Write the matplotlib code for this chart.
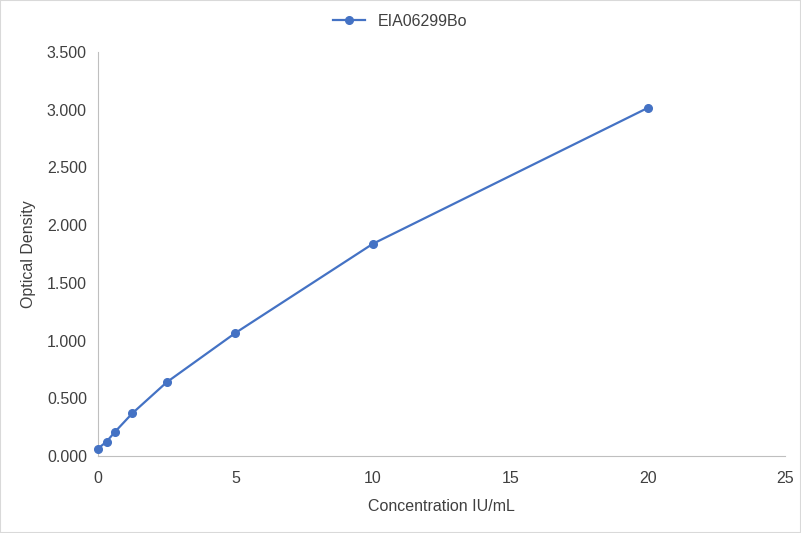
import numpy as np
import matplotlib.pyplot as plt

concentration = [0, 0.3125, 0.625, 1.25, 2.5, 5, 10, 20]
optical_density = [0.064, 0.125, 0.211, 0.370, 0.639, 1.066, 1.838, 3.015]
series_name = 'EIA06299Bo'

plt.rcParams['font.family'] = ['Arial', 'Liberation Sans', 'DejaVu Sans']

fig = plt.figure(figsize=(8.01, 5.33), dpi=100)
ax = fig.add_axes([98 / 801, 1 - 456 / 533, (785 - 98) / 801, (456 - 52) / 533])

ax.plot(concentration, optical_density, color='#4472C4', marker='o', markersize=5.5,
        linewidth=1.6, label=series_name, clip_on=False, zorder=3)

ax.set_xlim(0, 25)
ax.set_ylim(0, 3.5)
ax.set_xticks(np.arange(0, 26, 5))
ax.set_yticks(np.arange(0, 3.51, 0.5))
ax.set_yticklabels([f'{v:.3f}' for v in np.arange(0, 3.51, 0.5)])

for s in ['top', 'right']:
    ax.spines[s].set_visible(False)
for s in ['left', 'bottom']:
    ax.spines[s].set_color('#BFBFBF')
ax.tick_params(axis='both', length=0, labelsize=11.5, colors='#404040', pad=8)
ax.tick_params(axis='x', pad=11)

ax.set_xlabel('Concentration IU/mL', fontsize=11.5, color='#404040', labelpad=9)
ax.set_ylabel('Optical Density', fontsize=11.5, color='#404040', labelpad=8)

# legend sits centred on the figure, not on the plot area
ax.legend(loc='lower center', bbox_to_anchor=(0.44, 1.022), frameon=False, fontsize=11.5,
          handlelength=2.0, labelcolor='#404040')

fig.patches.append(plt.Rectangle((0, 0), 1, 1, transform=fig.transFigure, fill=False,
                                 edgecolor='#D9D9D9', linewidth=1.5))

fig.savefig('out.png', dpi=100)
